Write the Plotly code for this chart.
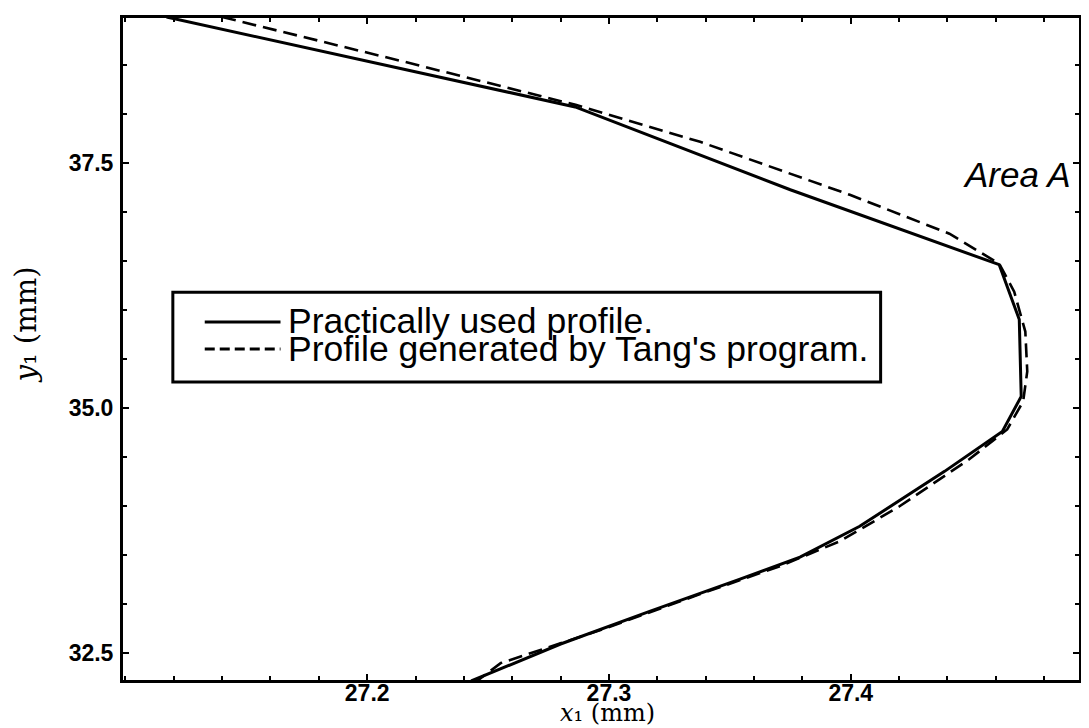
import plotly.graph_objects as go

# ---- data ----
solid_x = [27.117, 27.286, 27.375, 27.4614, 27.4697, 27.4705, 27.4627, 27.4388,
           27.4037, 27.379, 27.3542, 27.3171, 27.280, 27.243]
solid_y = [38.987, 38.070, 37.225, 36.461, 35.901, 35.117, 34.761, 34.353,
           33.793, 33.478, 33.254, 32.928, 32.592, 32.215]

dashed_x = [27.1400, 27.214, 27.2862, 27.3377, 27.3996, 27.4408, 27.4614, 27.4676,
            27.4722, 27.473, 27.4713, 27.4647, 27.449, 27.4202, 27.3955, 27.3707,
            27.3377, 27.2965, 27.2553, 27.2454]
dashed_y = [38.987, 38.539, 38.091, 37.714, 37.174, 36.777, 36.471, 36.186,
            35.779, 35.372, 35.066, 34.781, 34.476, 33.997, 33.640, 33.386,
            33.101, 32.734, 32.398, 32.215]

x_ticks = [27.2, 27.3, 27.4]
y_ticks = [32.5, 35.0, 37.5]
series_names = ["Practically used profile.", "Profile generated by Tang's program."]
area_label = "Area A"
x_title = "<i>x</i>₁ (mm)"
y_title = "<i>y</i>₁ (mm)"

# the page body keeps an 8px margin, so the figure is drawn 8px smaller
W, H = 1081, 720
L, R, T, B = 115, 7, 8, 48
PW, PH = W - L - R, H - T - B


def px(x):
    return (x - L) / PW


def py(y):
    return (H - B - y) / PH


fig = go.Figure()
fig.add_trace(go.Scatter(x=solid_x, y=solid_y, mode="lines", name=series_names[0],
                         line=dict(color="black", width=3), showlegend=False))
fig.add_trace(go.Scatter(x=dashed_x, y=dashed_y, mode="lines", name=series_names[1],
                         line=dict(color="black", width=2.6, dash="14px,7px"),
                         showlegend=False))

tickfont = dict(family="Liberation Sans", size=23, color="black", weight="bold")

fig.update_xaxes(range=[27.099, 27.4944], tickvals=x_ticks, tickformat=".1f",
                 ticks="inside", ticklen=6, tickwidth=2, tickcolor="black",
                 showline=True, linewidth=3, linecolor="black", mirror="ticks",
                 showgrid=False, zeroline=False, tickfont=tickfont,
                 ticklabelstandoff=-10,
                 minor=dict(ticks="inside", ticklen=4, tickwidth=2, dtick=0.02,
                            tick0=27.2, tickcolor="black", showgrid=False))
fig.update_yaxes(range=[32.225, 38.977], tickvals=y_ticks, tickformat=".1f",
                 ticks="inside", ticklen=6, tickwidth=2, tickcolor="black",
                 showline=True, linewidth=3, linecolor="black", mirror="ticks",
                 showgrid=False, zeroline=False, tickfont=tickfont,
                 ticklabelstandoff=2,
                 minor=dict(ticks="inside", ticklen=4, tickwidth=2, dtick=0.5,
                            tick0=32.5, tickcolor="black", showgrid=False))

shapes = [
    # legend box
    dict(type="rect", xref="paper", yref="paper", x0=px(165), x1=px(875),
         y0=py(373), y1=py(283), line=dict(color="black", width=3),
         fillcolor="white", layer="above"),
    dict(type="line", xref="paper", yref="paper", x0=px(197), x1=px(273),
         y0=py(313), y1=py(313), line=dict(color="black", width=3)),
    dict(type="line", xref="paper", yref="paper", x0=px(197), x1=px(273),
         y0=py(340), y1=py(340), line=dict(color="black", width=3, dash="10px,5px")),
]

legfont = dict(family="Liberation Sans", size=35.5, color="black")
annotations = [
    dict(text=series_names[0], xref="paper", yref="paper", x=px(279), y=py(312),
         xanchor="left", yanchor="middle", showarrow=False, font=legfont),
    dict(text=series_names[1], xref="paper", yref="paper", x=px(279), y=py(340),
         xanchor="left", yanchor="middle", showarrow=False, font=legfont),
    dict(text=area_label, xref="paper", yref="paper", x=px(1068), y=py(165),
         xanchor="right", yanchor="middle", showarrow=False,
         font=dict(family="Liberation Sans", size=35, color="black", style="italic")),
    dict(text=x_title, xref="paper", yref="paper", x=px(601),
         y=py(705), xanchor="center", yanchor="middle", showarrow=False,
         font=dict(family="DejaVu Serif", size=24, color="black")),
    dict(text=y_title, xref="paper", yref="paper", x=px(18),
         y=py(316), xanchor="center", yanchor="middle", showarrow=False, textangle=-90,
         font=dict(family="DejaVu Serif", size=29, color="black")),
]

fig.update_layout(width=W, height=H, margin=dict(l=L, r=R, t=T, b=B),
                  paper_bgcolor="white", plot_bgcolor="white",
                  shapes=shapes, annotations=annotations, showlegend=False)

fig.write_html("out.html")
